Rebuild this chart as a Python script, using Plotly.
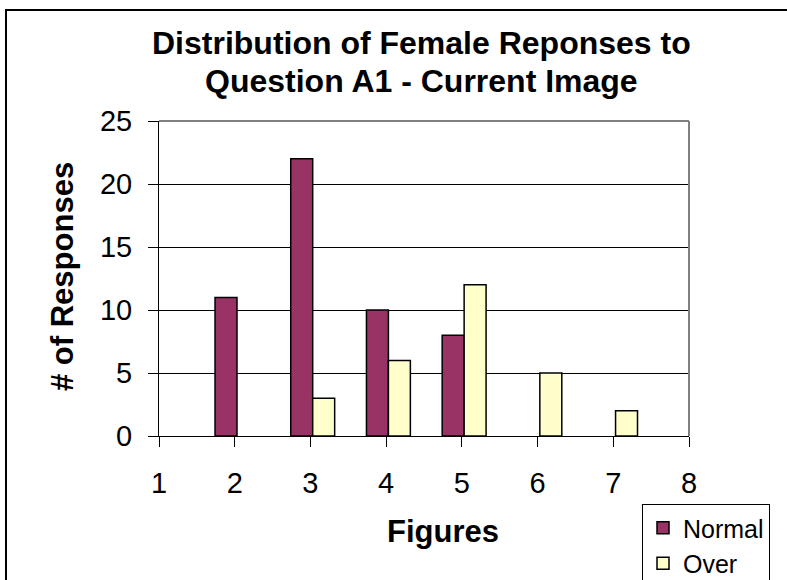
import plotly.graph_objects as go

figures_normal = [2, 3, 4, 5]
normal_counts = [11, 22, 10, 8]
figures_over = [3, 4, 5, 6, 7]
over_counts = [3, 6, 12, 5, 2]
x_ticks = [1, 2, 3, 4, 5, 6, 7, 8]
y_ticks = [0, 5, 10, 15, 20, 25]

FONT = "Liberation Sans, Arial, sans-serif"
W, H = 787, 580
L, R, T, B = 159, 98, 121, 144
PW, PH = W - L - R, H - T - B

def px(x):
    return (x - L) / PW

def py(y):
    return (H - B - y) / PH

fig = go.Figure()
fig.add_trace(go.Bar(x=figures_normal, y=normal_counts, name="Normal",
                     width=0.29, offset=-0.26,
                     marker=dict(color="#993366", line=dict(color="black", width=1.5))))
fig.add_trace(go.Bar(x=figures_over, y=over_counts, name="Over",
                     width=0.29, offset=0.03,
                     marker=dict(color="#FFFFCC", line=dict(color="black", width=1.5))))

fig.update_layout(
    width=W, height=H,
    margin=dict(l=L, r=R, t=T, b=B, autoexpand=False),
    paper_bgcolor="white", plot_bgcolor="white",
    barmode="group",
    font=dict(family=FONT, color="black", size=29),
    showlegend=True,
    legend=dict(x=px(642), y=py(504), xanchor="left", yanchor="top",
                bordercolor="black", borderwidth=1, bgcolor="white",
                font=dict(size=25), tracegroupgap=0, itemwidth=30),
    xaxis=dict(range=[1, 8], tickvals=x_ticks, ticktext=[str(v) for v in x_ticks],
               showgrid=False, zeroline=False, showline=True, linecolor="black", linewidth=1,
               ticks="outside", ticklen=10, tickcolor="black", ticklabelstandoff=11,
               tickfont=dict(size=29)),
    yaxis=dict(range=[0, 25], tickvals=y_ticks, showgrid=True, gridcolor="black", gridwidth=1,
               zeroline=False, showline=True, linecolor="black", linewidth=1,
               ticks="outside", ticklen=10, tickcolor="black", ticklabelstandoff=10,
               tickfont=dict(size=29)),
    shapes=[
        dict(type="line", xref="paper", yref="paper", x0=0, x1=1, y0=1, y1=1,
             line=dict(color="#808080", width=2)),
        dict(type="line", xref="paper", yref="paper", x0=1, x1=1, y0=0, y1=1,
             line=dict(color="#808080", width=2)),
        dict(type="rect", xref="paper", yref="paper", x0=px(6), x1=px(W + 20),
             y0=py(H + 20), y1=py(10), line=dict(color="black", width=2), layer="below"),
    ],
    annotations=[
        dict(text="<b>Distribution of Female Reponses to</b>",
             xref="paper", yref="paper", x=px(421), y=py(43), xanchor="center", yanchor="middle",
             showarrow=False, font=dict(size=32)),
        dict(text="<b>Question A1 - Current Image</b>",
             xref="paper", yref="paper", x=px(421), y=py(81), xanchor="center", yanchor="middle",
             showarrow=False, font=dict(size=32)),
        dict(text="<b>Figures</b>", xref="paper", yref="paper", x=px(443), y=py(531),
             xanchor="center", yanchor="middle", showarrow=False, font=dict(size=31)),
        dict(text="<b># of Responses</b>", xref="paper", yref="paper", x=px(62), y=py(277),
             xanchor="center", yanchor="middle", showarrow=False, textangle=-90,
             font=dict(size=31)),
    ],
)

fig.write_html("out.html", config={"displayModeBar": False},
               post_script="document.body.style.margin='0';")
